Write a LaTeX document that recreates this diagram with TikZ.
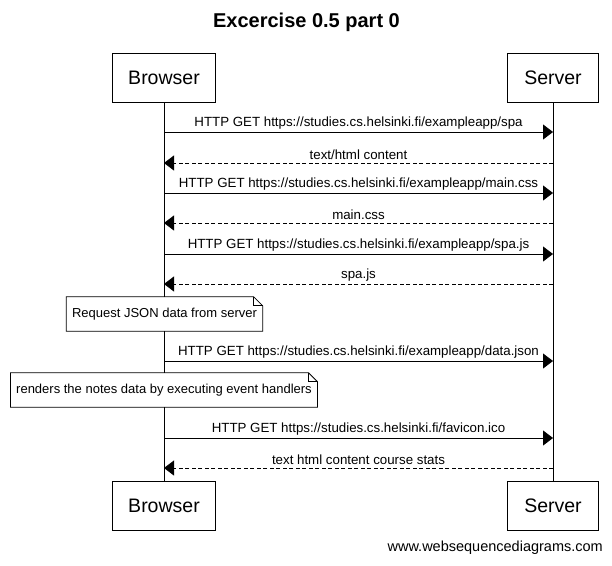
\documentclass[tikz,border=0pt]{standalone}
\usepackage{fontspec}
\setmainfont{Liberation Sans}
\usetikzlibrary{arrows.meta,positioning}

\begin{document}
\begin{tikzpicture}[
    x=1pt, y=-1pt,
    actor/.style={rectangle, draw, line width=0.8pt, minimum height=49pt, inner sep=0pt, font=\fontsize{19.5}{22}\selectfont},
    lifeline/.style={line width=0.8pt},
    msg/.style={-{Triangle[length=10pt,width=15pt]}, line width=0.8pt},
    reply/.style={msg, dash pattern=on 4pt off 2.5pt},
    msglabel/.style={above, inner sep=2.5pt, font=\fontsize{13.3}{15}\selectfont},
    note/.style={rectangle, minimum height=34pt, inner xsep=5.5pt, fill=white, font=\fontsize{13}{15}\selectfont},
    title/.style={font=\bfseries\fontsize{20}{23}\selectfont}
]
\useasboundingbox (0,0) rectangle (612,565);

% Title
\node[title] (title) at (306.5,22) {Excercise 0.5 part 0};

% Participants
\node[actor, minimum width=103pt] (browser-top) at (164,77.5) {Browser};
\node[actor, minimum width=91pt] (server-top) at (553,77.5) {Server};
\node[actor, minimum width=103pt] (browser-bot) at (164,505.5) {Browser};
\node[actor, minimum width=91pt] (server-bot) at (553,505.5) {Server};

% Lifelines
\draw[lifeline] (browser-top) -- (browser-bot);
\draw[lifeline] (server-top) -- (server-bot);

% Message levels on the lifelines
\foreach \i/\y in {1/132, 2/163, 3/193, 4/223, 5/254, 6/284, 7/361, 8/438, 9/468} {
    \coordinate (b\i) at (164,\y);
    \coordinate (s\i) at (553,\y);
}

% Messages
\draw[msg] (b1) -- node[msglabel] {HTTP GET https://studies.cs.helsinki.fi/exampleapp/spa} (s1);
\draw[reply] (s2) -- node[msglabel] {text/html content} (b2);
\draw[msg] (b3) -- node[msglabel] {HTTP GET https://studies.cs.helsinki.fi/exampleapp/main.css} (s3);
\draw[reply] (s4) -- node[msglabel] {main.css} (b4);
\draw[msg] (b5) -- node[msglabel] {HTTP GET https://studies.cs.helsinki.fi/exampleapp/spa.js} (s5);
\draw[reply] (s6) -- node[msglabel] {spa.js} (b6);
\draw[msg] (b7) -- node[msglabel] {HTTP GET https://studies.cs.helsinki.fi/exampleapp/data.json} (s7);
\draw[msg] (b8) -- node[msglabel] {HTTP GET https://studies.cs.helsinki.fi/favicon.ico} (s8);
\draw[reply] (s9) -- node[msglabel] {text html content course stats} (b9);

% Notes
\node[note] (note-json) at (164.5,314) {Request JSON data from server};
\node[note] (note-render) at (164,390) {renders the notes data by executing event handlers};
\foreach \n in {note-json, note-render} {
    \draw[line width=0.8pt] (\n.north west) -- ([xshift=-9pt]\n.north east)
        -- ([yshift=-9pt]\n.north east) -- (\n.south east) -- (\n.south west) -- cycle;
    \draw[line width=0.8pt] ([xshift=-9pt]\n.north east) -- ([xshift=-9pt, yshift=-9pt]\n.north east)
        -- ([yshift=-9pt]\n.north east);
}

% Footer
\node[anchor=east, inner sep=0pt, font=\fontsize{14.5}{16}\selectfont] (footer) at (603,548) {www.websequencediagrams.com};

\end{tikzpicture}
\end{document}
